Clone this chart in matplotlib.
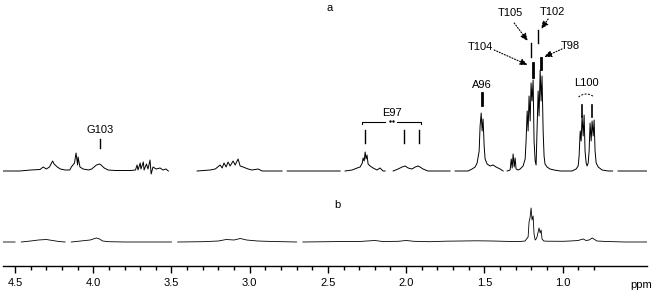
import numpy as np
import matplotlib
matplotlib.use("Agg")
import matplotlib.pyplot as plt

plt.rcParams['font.family'] = ['Liberation Sans', 'DejaVu Sans']

nan = np.nan

# spectrum a: chemical shift (ppm) and height above its baseline, NaN = break in trace
a_ppm = [4.577, 4.47, 4.40, 4.34, 4.32, 4.30, 4.28, 4.26, 4.25, 4.23, 4.21, 4.18, 4.15,
         4.14, 4.12, 4.11, 4.10, 4.097, 4.085, 4.065, 4.03, 4.01, 3.98, 3.96, 3.95, 3.93,
         3.905, 3.86, 3.76, 3.73, 3.72, 3.714, 3.70, 3.695, 3.68, 3.675, 3.66, 3.65, 3.637,
         3.63, 3.618, 3.598, 3.573, 3.554, 3.535, 3.52, nan,
         3.336, 3.253, 3.22, 3.189, 3.176, 3.164, 3.151, 3.138, 3.125, 3.106, 3.093, 3.074,
         3.061, 3.042, 3.01, 2.985, 2.946, 2.92, 2.793, nan,
         2.76, 2.422, nan,
         2.39, 2.345, 2.313, 2.294, 2.28, 2.275, 2.268, 2.262, 2.256, 2.25, 2.243, 2.23,
         2.211, 2.186, 2.167, 2.147, 2.134, nan,
         2.083, 2.051, 2.026, 2.006, 1.987, 1.962, 1.942, 1.923, 1.911, 1.892, 1.86, 1.719, nan,
         1.687, 1.604, 1.578, 1.559, 1.546, 1.533, 1.527, 1.52, 1.514, 1.508, 1.501, 1.495,
         1.482, 1.463, 1.444, 1.425, 1.399, 1.38, nan,
         1.354, 1.335, 1.328, 1.322, 1.316, 1.309, 1.303, 1.297, 1.284, 1.271, 1.252, 1.239,
         1.233, 1.226, 1.22, 1.214, 1.207, 1.201, 1.195, 1.188, 1.182, 1.175, 1.169, 1.163,
         1.156, 1.15, 1.143, 1.137, 1.131, 1.124, 1.118, 1.112, 1.099, 1.08, 1.054, 1.015,
         0.939, 0.913, 0.90, 0.894, 0.887, 0.881, 0.875, 0.868, 0.862, 0.856, 0.849, 0.843,
         0.836, 0.83, 0.824, 0.817, 0.811, 0.804, 0.798, 0.792, 0.785, 0.772, 0.747, 0.708,
         0.68, nan,
         0.645, 0.46]
a_int = [0, 0, 1, 1.5, 4, 2, 4, 10, 7, 4, 2, 1, 1,
         4, 8, 18, 6, 14, 4, 2, 1, 2, 6, 7, 6, 3,
         1, 0.5, 0.5, 1, 6, 1, 8, 2, 9, 1, 7, 2, 11,
         -3, 4, 2, 3, 1, 2, 0, nan,
         0, 1, 2, 6, 3, 8, 4, 9, 5, 10, 6, 12,
         5, 4, 2, 1, 2, 0, 0, nan,
         0, 0, nan,
         0, 1, 3, 4, 8, 13, 10, 19, 12, 16, 7, 5,
         3, 1, 3, 0, 0, nan,
         0, 2, 4, 5, 3, 2, 4, 5, 4, 2, 0, 0, nan,
         0, 0, 2, 4, 8, 20, 45, 58, 40, 52, 25, 12,
         7, 5, 6, 4, 2, 0, nan,
         0, 1, 12, 3, 17, 4, 13, 2, 1, 2, 5, 12,
         30, 60, 40, 75, 50, 88, 70, 91, 30, 10, 6, 40,
         80, 55, 101, 70, 95, 40, 15, 7, 4, 2, 1, 0,
         0, 2, 5, 15, 40, 30, 55, 35, 56, 20, 8, 5,
         8, 20, 48, 30, 50, 35, 51, 20, 8, 4, 1, 0,
         0, nan,
         0, 0]

# spectrum b
b_ppm = [4.577, 4.50, nan, 4.46, 4.40, 4.35, 4.30, 4.26, 4.22, 4.18, nan,
         4.14, 4.08, 4.02, 3.98, 3.96, 3.94, 3.90, 3.80, 3.60, 3.50, nan,
         3.46, 3.30, 3.20, 3.15, 3.10, 3.06, 3.02, 2.95, 2.85, 2.70, nan,
         2.66, 2.50, 2.40, 2.30, 2.20, 2.15, 2.05, 2.00, 1.95, 1.85, 1.75, 1.65, 1.55,
         1.45, 1.35, 1.28, 1.24, 1.22, 1.214, 1.207, 1.201, 1.195, 1.188, 1.182, 1.175,
         1.169, 1.163, 1.156, 1.15, 1.143, 1.137, 1.131, 1.12, 1.10, 1.0, 0.95, 0.90,
         0.88, 0.867, 0.85, 0.83, 0.81, 0.80, 0.78, 0.72, 0.60, 0.46]
b_int = [0, 0, nan, 0, 1, 2, 2.5, 1.5, 0.5, 0, nan,
         0, 1, 2, 4, 3, 1, 0.3, 0, 0, 0, nan,
         0, 0.3, 1, 2.5, 2, 3.5, 2, 1, 0.5, 0, nan,
         0, 0.3, 0.5, 0.5, 1.5, 0.5, 0.7, 1.5, 0.7, 0.3, 0.8, 1, 1.2,
         1, 0.6, 0.4, 1, 5, 20, 25, 34, 22, 26, 8, 2,
         3, 5, 10, 14, 9, 12, 3, 1, 0.8, 0.7, 1, 1.5,
         2.5, 3, 1.5, 2, 4, 3, 1, 0.5, 0, 0]

# assignments: name, peak shift(s)
simple_labels = ["G103", "A96"]
simple_shifts = [3.957, 1.516]
e97_shifts = [2.262, 2.013, 1.917]
l100_shifts = [0.874, 0.810]
thr_labels = ["T105", "T102", "T104", "T98"]
thr_shifts = [1.201, 1.154, 1.190, 1.139]

major_ticks = [4.5, 4.0, 3.5, 3.0, 2.5, 2.0, 1.5, 1.0]

A_BASE = 94.7
B_BASE = 23.7
FS = 8

fig = plt.figure(figsize=(6.61, 3.02), dpi=100)
ax = fig.add_axes([3 / 661, 36.3 / 302, 644 / 661, 265.7 / 302])
ax.set_xlim(4.577, 0.46)
ax.set_ylim(0, 265.7)

ax.plot(a_ppm, A_BASE + np.array(a_int, dtype=float), color="black", lw=0.7)
ax.plot(b_ppm, B_BASE + np.array(b_int, dtype=float), color="black", lw=0.6)

ax.text(2.486, 257.7, "a", fontsize=FS, ha="center", va="center")
ax.text(2.441, 60.7, "b", fontsize=FS, ha="center", va="center")

# G103 and A96: tick above peak plus label
marker_h = [(23, 32, 1.0, 41), (66, 78, 2.0, 86)]
for name, x, (h0, h1, lw, ht) in zip(simple_labels, simple_shifts, marker_h):
    ax.plot([x, x], [A_BASE + h0, A_BASE + h1], color="black", lw=lw)
    ax.text(x, A_BASE + ht, name, fontsize=FS, ha="center", va="center")

# E97 bracket
for x in e97_shifts:
    ax.plot([x, x], [A_BASE + 28, A_BASE + 41], color="black", lw=1.0)
yb = A_BASE + 49.5
ax.plot([2.281, 2.281, 2.134], [yb - 2, yb, yb], color="black", lw=0.8)
ax.plot([2.057, 1.904, 1.904], [yb, yb, yb - 2], color="black", lw=0.8)
ax.plot([2.102, 2.083], [yb + 1, yb + 1], ls="none", marker=".", ms=1.5, color="black")
ax.text(2.09, A_BASE + 58, "E97", fontsize=FS, ha="center", va="center")

# L100 pair with dashed arc
for x in l100_shifts:
    ax.plot([x, x], [A_BASE + 54, A_BASE + 66], color="black", lw=1.2)
xc = np.linspace(0.898, 0.798, 15)
ax.plot(xc, A_BASE + 74 + 3 * (1 - ((xc - 0.848) / 0.05) ** 2), color="black",
        lw=0.7, ls=(0, (2, 1.5)))
ax.text(0.849, A_BASE + 88, "L100", fontsize=FS, ha="center", va="center")

# threonine methyls: tick, label, dotted arrow
thr_marks = [(114, 128, 1.0), (128, 141, 1.0), (94, 108, 2.0), (102, 113, 2.0)]
thr_text = [(1.333, 158), (1.067, 159), (1.527, 124), (0.950, 125)]
thr_arrow = [((1.309, 148), (1.222, 130)), ((1.092, 152), (1.137, 142)),
             ((1.437, 121), (1.222, 106)), ((1.003, 122), (1.118, 114))]
for name, x, (h0, h1, lw), (tx, ty), (tail, tip) in zip(thr_labels, thr_shifts, thr_marks,
                                                       thr_text, thr_arrow):
    ax.plot([x, x], [A_BASE + h0, A_BASE + h1], color="black", lw=lw)
    ax.text(tx, A_BASE + ty, name, fontsize=FS, ha="center", va="center")
    ax.annotate("", xy=(tip[0], A_BASE + tip[1]), xytext=(tail[0], A_BASE + tail[1]),
                arrowprops=dict(arrowstyle="-|>,head_length=0.45,head_width=0.2",
                                ls=(0, (1, 1.5)), lw=0.8, color="black",
                                shrinkA=0, shrinkB=0))

for s in ["top", "left", "right"]:
    ax.spines[s].set_visible(False)
ax.spines["bottom"].set_linewidth(1.0)
ax.set_yticks([])
ax.set_xticks(major_ticks)
ax.set_xticklabels(["%.1f" % t for t in major_ticks])
ax.set_xticks(np.round(np.arange(4.4, 0.75, -0.1), 1), minor=True)
ax.tick_params(axis="x", which="major", direction="out", length=5, width=1,
               labelsize=FS, pad=4)
ax.tick_params(axis="x", which="minor", direction="out", length=3, width=1)
ax.text(0.5, -0.073, "ppm", transform=ax.get_xaxis_transform(), fontsize=FS,
        ha="center", va="center")

fig.savefig("out.png", dpi=100)
